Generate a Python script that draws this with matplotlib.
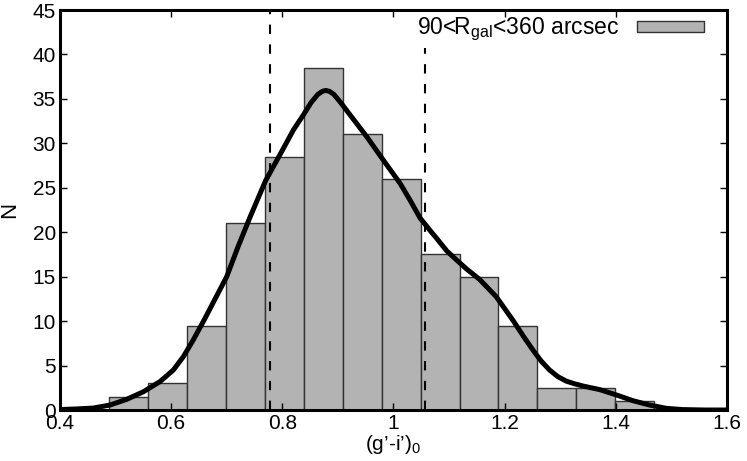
import matplotlib
matplotlib.use("Agg")
import matplotlib.pyplot as plt
import numpy as np

plt.rcParams['font.family'] = ['Liberation Sans', 'DejaVu Sans']
plt.rcParams['mathtext.fontset'] = 'custom'
plt.rcParams['mathtext.rm'] = 'Liberation Sans'
plt.rcParams['mathtext.it'] = 'Liberation Sans'

# histogram (bin edges and counts)
bin_edges = [0.489, 0.559, 0.629, 0.699, 0.769, 0.839, 0.909, 0.979,
             1.049, 1.119, 1.189, 1.259, 1.329, 1.399, 1.469]
counts = [1.5, 3.0, 9.5, 21.0, 28.5, 38.5, 31.0, 26.0,
          17.5, 15.0, 9.5, 2.5, 2.5, 1.0]

# smoothed density curve
curve_x = [0.40, 0.43, 0.46, 0.49, 0.52, 0.55, 0.58, 0.604, 0.622, 0.64,
           0.66, 0.68, 0.70, 0.72, 0.742, 0.77, 0.80, 0.82, 0.838, 0.852,
           0.864, 0.872, 0.878, 0.885, 0.893, 0.905, 0.922, 0.952, 0.982,
           1.012, 1.03, 1.048, 1.066, 1.078, 1.096, 1.115, 1.131, 1.155,
           1.185, 1.215, 1.235, 1.251, 1.266, 1.281, 1.296, 1.311, 1.326,
           1.341, 1.371, 1.401, 1.431, 1.461, 1.491, 1.52, 1.56, 1.60]
curve_y = [0.05, 0.12, 0.22, 0.56, 1.2, 2.05, 3.2, 4.5, 6.0, 7.9,
           10.2, 12.6, 15.0, 18.3, 21.7, 25.8, 29.2, 31.5, 33.2, 34.6,
           35.5, 35.85, 35.95, 35.85, 35.5, 34.6, 33.2, 30.75, 28.1,
           25.5, 23.6, 21.6, 20.2, 19.3, 17.9, 16.8, 15.9, 14.7,
           12.75, 10.1, 8.2, 6.75, 5.5, 4.5, 3.75, 3.25, 2.95,
           2.7, 2.3, 1.7, 1.05, 0.56, 0.19, 0.05, 0.0, 0.0]

# color limits (dashed lines)
limits = [0.778, 1.057]

fig = plt.figure(figsize=(7.47, 4.61), dpi=100)
ax = fig.add_axes([0.0803, 0.1106, 0.8927, 0.8677])

widths = np.diff(bin_edges)
ax.bar(bin_edges[:-1], counts, width=widths, align='edge',
       color='#b3b3b3', edgecolor='#333333', linewidth=1.0,
       label=r'90<R$_{\rm gal}$<360 arcsec', zorder=2)

for xv in limits:
    ax.axvline(xv, color='black', linestyle=(0, (4.5, 5)), linewidth=1.5, zorder=3)

ax.plot(curve_x, curve_y, color='black', linewidth=3.6,
        solid_capstyle='round', solid_joinstyle='round', zorder=4)

ax.set_xlim(0.4, 1.6)
ax.set_ylim(0, 45)
ax.set_xticks(np.arange(0.4, 1.61, 0.2))
ax.set_xticklabels(['0.4', '0.6', '0.8', '1', '1.2', '1.4', '1.6'])
ax.set_yticks(np.arange(0, 46, 5))
ax.tick_params(direction='in', top=True, right=True, length=5, width=1.0,
               labelsize=15, pad=3)
for s in ax.spines.values():
    s.set_linewidth(2.2)
    s.set_zorder(6)
ax.xaxis.set_zorder(6)
ax.yaxis.set_zorder(6)

ax.set_xlabel("(g’-i’)$_0$", fontsize=15, labelpad=0)
ax.set_ylabel('N', fontsize=16, labelpad=9)

leg = ax.legend(loc='upper right', bbox_to_anchor=(0.972, 0.9965),
                frameon=True, facecolor='white', edgecolor='none',
                framealpha=1.0, fancybox=False, borderpad=0.2,
                markerfirst=False, fontsize=16.5, handlelength=2.9,
                handleheight=0.4, borderaxespad=0.0, handletextpad=0.8)
leg.set_zorder(3.5)

fig.savefig('out.png', dpi=100)
